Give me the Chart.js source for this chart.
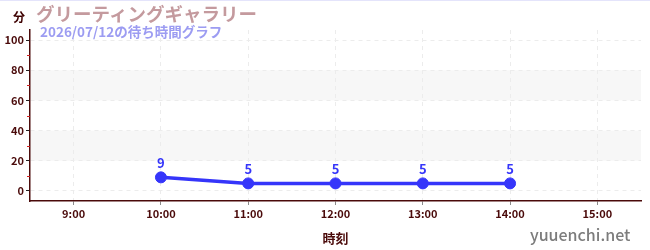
<!DOCTYPE html>
<html>
<head>
<meta charset="utf-8">
<script src="https://cdn.jsdelivr.net/npm/chart.js@4/dist/chart.umd.min.js"></script>
<style>
  html, body { margin: 0; padding: 0; background: #fff; }
  #wrap { position: relative; width: 650px; height: 250px; border-top: 1px solid #e4e4fb; box-sizing: border-box; }
  #chart { position: absolute; left: 0; top: 0; }
  .lbl { position: absolute; white-space: nowrap; font-family: "Noto Sans CJK JP", "Noto Sans", sans-serif; font-weight: bold; }
  #title { left: 36px; top: -1px; font-size: 18.5px; color: #c49a9e; }
  #sub { left: 40px; top: 20px; font-size: 13.5px; color: #9c9cf2; }
  #unit { left: 13px; top: 7px; font-size: 12px; color: #3d0000; }
  #mark { left: 530px; top: 221px; font-size: 16px; color: #7c7c7c; font-weight: 500; }
</style>
</head>
<body>
<div id="wrap">
  <canvas id="chart" width="650" height="249"></canvas>
  <div class="lbl" id="unit">分</div>
  <div class="lbl" id="title">グリーティングギャラリー</div>
  <div class="lbl" id="sub">2026/07/12の待ち時間グラフ</div>
  <div class="lbl" id="mark">yuuenchi.net</div>
</div>
<script>
// データ
const hours = ['9:00', '10:00', '11:00', '12:00', '13:00', '14:00', '15:00'];
const waits = [null, 9, 5, 5, 5, 5, null];
const yTicks = [0, 20, 40, 60, 80, 100];
const yMinor = [10, 30, 50, 70, 90];
const bands = [[20, 40], [60, 80]];

const C_LINE = '#3535fa';
const C_AXIS = '#4a0a0a';
const FONT = '"Noto Sans CJK JP", "Noto Sans", sans-serif';

// 背景の帯
const bandPlugin = {
  id: 'bands',
  beforeDraw(chart) {
    const { ctx, chartArea: a, scales: { y } } = chart;
    ctx.save();
    ctx.fillStyle = '#f7f7f7';
    bands.forEach(([lo, hi]) => {
      const t = y.getPixelForValue(hi), b = y.getPixelForValue(lo);
      ctx.fillRect(a.left, t, a.right - a.left, b - t);
    });
    ctx.restore();
  }
};

// 補助目盛り（赤）
const minorPlugin = {
  id: 'minor',
  afterDraw(chart) {
    const { ctx, chartArea: a, scales: { y } } = chart;
    ctx.save();
    ctx.strokeStyle = '#d02020';
    ctx.lineWidth = 1;
    yMinor.forEach(v => {
      const py = Math.round(y.getPixelForValue(v)) + 0.5;
      ctx.beginPath();
      ctx.moveTo(a.left - 3, py);
      ctx.lineTo(a.left, py);
      ctx.stroke();
    });
    ctx.restore();
  }
};

// 値ラベル
const labelPlugin = {
  id: 'vals',
  afterDatasetsDraw(chart) {
    const { ctx } = chart;
    const meta = chart.getDatasetMeta(0);
    ctx.save();
    ctx.font = 'bold 13px ' + FONT;
    ctx.fillStyle = C_LINE;
    ctx.textAlign = 'center';
    ctx.textBaseline = 'bottom';
    meta.data.forEach((pt, i) => {
      if (waits[i] == null) return;
      ctx.fillText(String(waits[i]), pt.x, pt.y - 8);
    });
    ctx.restore();
  }
};

new Chart(document.getElementById('chart'), {
  type: 'line',
  data: {
    labels: hours,
    datasets: [{
      data: waits,
      borderColor: C_LINE,
      backgroundColor: C_LINE,
      borderWidth: 3.5,
      pointRadius: 5.5,
      pointBorderWidth: 1,
      pointHoverRadius: 5.5,
      tension: 0,
      spanGaps: false
    }]
  },
  options: {
    responsive: false,
    animation: false,
    events: [],
    layout: { padding: { top: 29, right: 9, left: 0, bottom: 0 } },
    plugins: { legend: { display: false }, tooltip: { enabled: false } },
    scales: {
      x: {
        offset: true,
        afterFit: s => { s.height = 49; },
        grid: { color: '#ececec', tickColor: '#8a8a8a', tickLength: 4, drawOnChartArea: true },
        border: { color: C_AXIS, width: 1.5, dash: [4, 4] },
        ticks: { color: C_AXIS, font: { family: FONT, size: 11, weight: 'bold' }, padding: 2, maxRotation: 0 },
        title: { display: true, text: '時刻', color: C_AXIS, font: { family: FONT, size: 13, weight: 'bold' }, padding: { top: 6 } }
      },
      y: {
        min: -6.67,
        max: 106.67,
        afterFit: s => { s.width = 30; },
        afterBuildTicks: s => { s.ticks = yTicks.map(v => ({ value: v })); },
        grid: { color: '#ececec', tickColor: '#222', tickLength: 4 },
        border: { color: C_AXIS, width: 1.5, dash: [4, 4] },
        ticks: { color: C_AXIS, font: { family: FONT, size: 11, weight: 'bold' }, padding: 2 }
      }
    }
  },
  plugins: [bandPlugin, minorPlugin, labelPlugin]
});
</script>
</body>
</html>
